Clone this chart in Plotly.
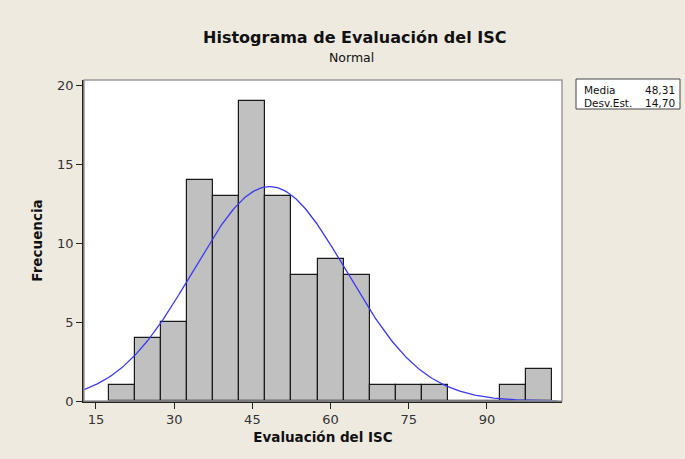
import numpy as np
import plotly.graph_objects as go

# Histogram bins (centers, width 5) and frequencies
bin_centers = [20, 25, 30, 35, 40, 45, 50, 55, 60, 65, 70, 75, 80, 85, 90, 95, 100]
frequencies = [1, 4, 5, 14, 13, 19, 13, 8, 9, 8, 1, 1, 1, 0, 0, 1, 2]
bin_width = 5

# Fitted normal parameters shown in the chart
media = 48.31
desv_est = 14.70
n_obs = sum(frequencies)

x_ticks = [15, 30, 45, 60, 75, 90]
y_ticks = [0, 5, 10, 15, 20]

# Fitted normal curve (scaled to counts)
xc = np.linspace(12.7, 103.5, 300)
yc = n_obs * bin_width / (desv_est * np.sqrt(2 * np.pi)) * np.exp(-0.5 * ((xc - media) / desv_est) ** 2)

BG = "#EEEAE0"
FONT = "DejaVu Sans"

L, R, T, B = 84, 123, 80, 58
PW = 685 - L - R
PH = 459 - T - B

def px(x):
    return (x - L) / PW

def py(y):
    return (459 - B - y) / PH

fig = go.Figure()
fig.add_trace(go.Bar(
    x=bin_centers, y=frequencies, width=bin_width,
    marker=dict(color="#C0C0C0", line=dict(color="#1a1a1a", width=1.2)),
    hoverinfo="x+y",
))
fig.add_trace(go.Scatter(
    x=xc, y=yc, mode="lines",
    line=dict(color="#3A3AF0", width=1.3),
))

fig.update_layout(
    width=685, height=459,
    paper_bgcolor=BG, plot_bgcolor="white",
    showlegend=False,
    margin=dict(l=L, r=R, t=T, b=B),
    bargap=0,
    font=dict(family=FONT, color="#222"),
    shapes=[dict(type="rect", xref="paper", yref="paper", x0=0, x1=1, y0=0, y1=1,
                 line=dict(color="#9a9a9a", width=1.5), layer="above")],
    annotations=[
        dict(text="<b>Histograma de Evaluación del ISC</b>", xref="paper", yref="paper",
             x=px(354), y=py(37), xanchor="center", yanchor="middle",
             showarrow=False, font=dict(size=16, family=FONT, color="#111")),
        dict(text="Normal", xref="paper", yref="paper",
             x=px(351), y=py(57), xanchor="center", yanchor="middle",
             showarrow=False, font=dict(size=12.5, family=FONT, color="#111")),
    ],
)

fig.update_xaxes(
    range=[12.7, 104.4], tickvals=x_ticks, ticktext=[str(v) for v in x_ticks],
    ticks="outside", ticklen=6, tickwidth=1.2, tickcolor="#222",
    showline=True, linecolor="#222", linewidth=1.5, showgrid=False, zeroline=False,
    tickfont=dict(size=13, family=FONT, color="#333"),
    title=dict(text="<b>Evaluación del ISC</b>", font=dict(size=13.5, family=FONT, color="#111"), standoff=6),
)
fig.update_yaxes(
    range=[0, 20.32], tickvals=y_ticks, ticktext=[str(v) for v in y_ticks],
    ticks="outside", ticklen=6, tickwidth=1.2, tickcolor="#222",
    showline=True, linecolor="#222", linewidth=1.5, showgrid=False, zeroline=False,
    tickfont=dict(size=13, family=FONT, color="#333"),
    title=dict(text="<b>Frecuencia</b>", font=dict(size=13.5, family=FONT, color="#111"), standoff=11),
)

# Stats box
fig.add_shape(type="rect", xref="paper", yref="paper", x0=px(576), x1=px(680), y0=py(109), y1=py(79),
              line=dict(color="#444", width=1), fillcolor="white")
stats = [("Media", f"{media:.2f}".replace(".", ",")), ("Desv.Est.", f"{desv_est:.2f}".replace(".", ","))]
for i, (lab, val) in enumerate(stats):
    yy = py(90.5 + 13 * i)
    fig.add_annotation(text=lab, xref="paper", yref="paper", x=px(582), y=yy,
                       xanchor="left", yanchor="middle", showarrow=False,
                       font=dict(size=10.5, family=FONT, color="#111"))
    fig.add_annotation(text=val, xref="paper", yref="paper", x=px(677), y=yy,
                       xanchor="right", yanchor="middle", showarrow=False,
                       font=dict(size=10.5, family=FONT, color="#111"))

fig.write_html("out.html", config={"displayModeBar": False},
               post_script="document.body.style.margin='0';document.body.style.overflow='hidden';")
